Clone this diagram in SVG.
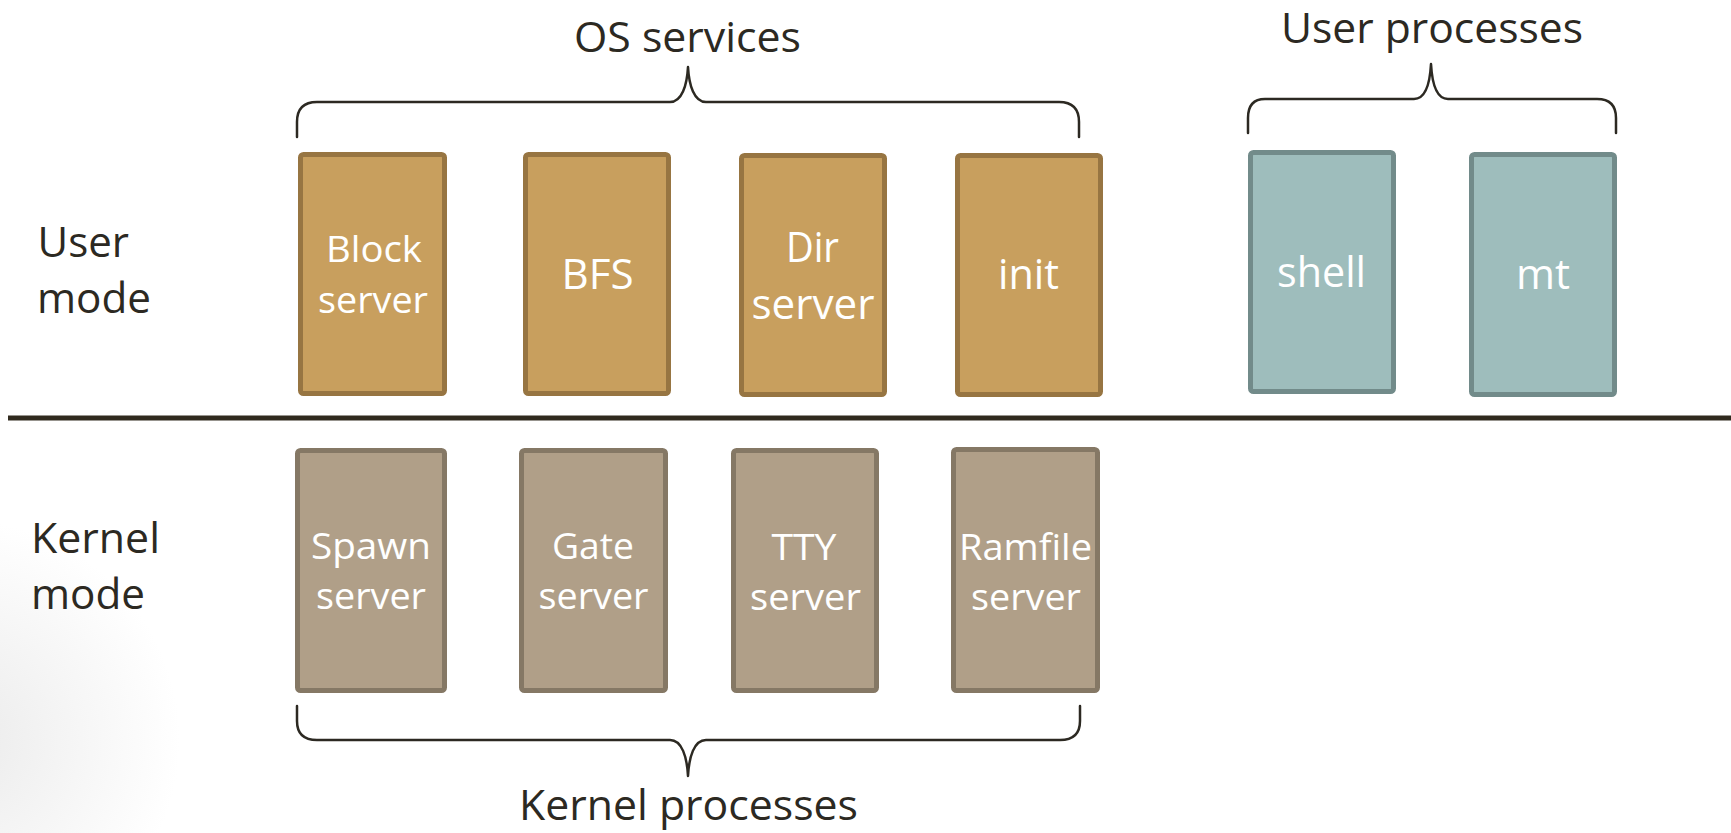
<svg xmlns="http://www.w3.org/2000/svg" width="1731" height="833" viewBox="0 0 1731 833">
  <defs>
    <radialGradient id="shade" cx="-40" cy="740" r="220" gradientUnits="userSpaceOnUse">
      <stop offset="0" stop-color="#ebebeb"/>
      <stop offset="1" stop-color="#ffffff"/>
    </radialGradient>
    <style>
      .os { fill: #c89f5e; stroke: #977542; stroke-width: 5; }
      .up { fill: #9ebdbc; stroke: #728b8a; stroke-width: 5; }
      .kp { fill: #b09f88; stroke: #857865; stroke-width: 5; }
      .bt { font-family: "Open Sans", "Noto Sans", sans-serif; fill: #ffffff; text-anchor: middle; }
      .s37 { font-size: 37px; }
      .s42 { font-size: 42px; }
      .lbl { font-family: "Open Sans", "Noto Sans", sans-serif; fill: #2c2922; font-size: 42px; }
      .brace { fill: none; stroke: #2c2922; stroke-width: 2.5; stroke-linecap: round; stroke-linejoin: round; }
    </style>
  </defs>
  <rect x="0" y="0" width="1731" height="833" fill="#ffffff"/>
  <rect x="0" y="480" width="400" height="353" fill="url(#shade)"/>

  <!-- Labels -->
  <g id="labels">
    <text class="lbl" x="687.5" y="52" text-anchor="middle" textLength="227" lengthAdjust="spacingAndGlyphs">OS services</text>
    <text class="lbl" x="1432" y="43" text-anchor="middle" textLength="302" lengthAdjust="spacingAndGlyphs">User processes</text>
    <text class="lbl" x="688.5" y="820" text-anchor="middle" textLength="339" lengthAdjust="spacingAndGlyphs">Kernel processes</text>
    <text class="lbl" x="37.5" y="257" textLength="91.5" lengthAdjust="spacingAndGlyphs">User</text>
    <text class="lbl" x="37" y="313" textLength="114" lengthAdjust="spacingAndGlyphs">mode</text>
    <text class="lbl" x="31" y="553" textLength="129" lengthAdjust="spacingAndGlyphs">Kernel</text>
    <text class="lbl" x="31" y="609" textLength="114" lengthAdjust="spacingAndGlyphs">mode</text>
  </g>

  <!-- Braces and divider -->
  <g id="connectors">
    <path class="brace" d="M297,137 V122 Q297,102 317,102 H670 C682,102 687,85 688,67 C689,85 694,102 706,102 H1059 Q1079,102 1079,122 V137"/>
    <path class="brace" d="M1248,133 V118 Q1248,99 1265,99 H1414 C1426,99 1430,82 1431,64 C1432,82 1436,99 1448,99 H1597 Q1616,99 1616,118 V133"/>
    <path class="brace" d="M297,706 V721 Q297,740 317,740 H670 C682,740 687,757 688,776 C689,757 694,740 706,740 H1060 Q1080,740 1080,721 V706"/>
    <line x1="8" y1="418" x2="1731" y2="418" stroke="#302a1e" stroke-width="5"/>
  </g>

  <!-- OS services -->
  <g id="block-server">
    <rect class="os" x="300.5" y="154.5" width="144" height="239" rx="3"/>
    <text class="bt s37" x="374" y="262" textLength="96" lengthAdjust="spacingAndGlyphs">Block</text>
    <text class="bt s37" x="373" y="313" textLength="110" lengthAdjust="spacingAndGlyphs">server</text>
  </g>
  <g id="bfs">
    <rect class="os" x="525.5" y="154.5" width="143" height="239" rx="3"/>
    <text class="bt s42" x="597.5" y="289" textLength="72" lengthAdjust="spacingAndGlyphs">BFS</text>
  </g>
  <g id="dir-server">
    <rect class="os" x="741.5" y="155.5" width="143" height="239" rx="3"/>
    <text class="bt s42" x="812.5" y="262" textLength="53" lengthAdjust="spacingAndGlyphs">Dir</text>
    <text class="bt s42" x="813" y="319" textLength="123" lengthAdjust="spacingAndGlyphs">server</text>
  </g>
  <g id="init">
    <rect class="os" x="957.5" y="155.5" width="143" height="239" rx="3"/>
    <text class="bt s42" x="1028.5" y="289" textLength="61" lengthAdjust="spacingAndGlyphs">init</text>
  </g>

  <!-- User processes -->
  <g id="shell">
    <rect class="up" x="1250.5" y="152.5" width="143" height="239" rx="3"/>
    <text class="bt s42" x="1321.5" y="287" textLength="89" lengthAdjust="spacingAndGlyphs">shell</text>
  </g>
  <g id="mt">
    <rect class="up" x="1471.5" y="154.5" width="143" height="240" rx="3"/>
    <text class="bt s42" x="1543" y="289" textLength="54" lengthAdjust="spacingAndGlyphs">mt</text>
  </g>

  <!-- Kernel processes -->
  <g id="spawn-server">
    <rect class="kp" x="297.5" y="450.5" width="147" height="240" rx="3"/>
    <text class="bt s37" x="371" y="559" textLength="120" lengthAdjust="spacingAndGlyphs">Spawn</text>
    <text class="bt s37" x="371" y="609" textLength="110" lengthAdjust="spacingAndGlyphs">server</text>
  </g>
  <g id="gate-server">
    <rect class="kp" x="521.5" y="450.5" width="144" height="240" rx="3"/>
    <text class="bt s37" x="593" y="559" textLength="82" lengthAdjust="spacingAndGlyphs">Gate</text>
    <text class="bt s37" x="593.5" y="609" textLength="110" lengthAdjust="spacingAndGlyphs">server</text>
  </g>
  <g id="tty-server">
    <rect class="kp" x="733.5" y="450.5" width="143" height="240" rx="3"/>
    <text class="bt s37" x="804" y="560" textLength="65" lengthAdjust="spacingAndGlyphs">TTY</text>
    <text class="bt s37" x="805.5" y="610" textLength="111" lengthAdjust="spacingAndGlyphs">server</text>
  </g>
  <g id="ramfile-server">
    <rect class="kp" x="953.5" y="449.5" width="144" height="241" rx="3"/>
    <text class="bt s37" x="1025.5" y="560" textLength="133" lengthAdjust="spacingAndGlyphs">Ramfile</text>
    <text class="bt s37" x="1026" y="610" textLength="110" lengthAdjust="spacingAndGlyphs">server</text>
  </g>
</svg>
